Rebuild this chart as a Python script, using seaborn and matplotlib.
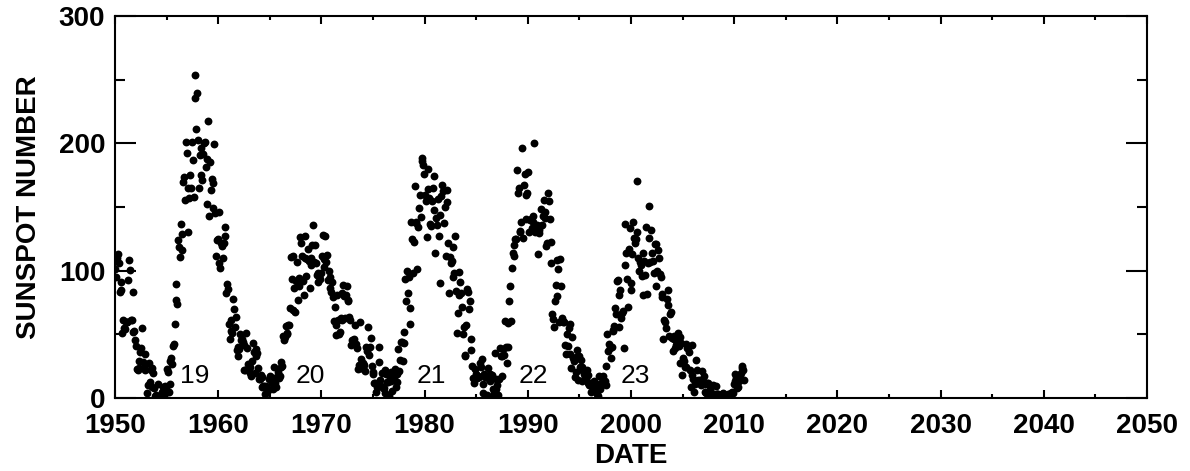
import numpy as np
import pandas as pd
import matplotlib
matplotlib.use("Agg")
import matplotlib.pyplot as plt
from matplotlib.ticker import MultipleLocator
import seaborn as sns

# monthly sunspot numbers, Jan..Dec, one row per year
ssn_1950s = [
    101.6, 94.8, 109.7, 113.4, 106.2, 83.6, 91.0, 85.2, 51.3, 61.4, 54.8, 54.1,
    59.9, 59.9, 59.9, 92.9, 108.5, 100.6, 61.5, 61.0, 83.1, 51.6, 52.4, 45.8,
    40.7, 22.7, 22.0, 29.1, 23.4, 36.4, 39.3, 54.9, 28.2, 23.8, 22.1, 34.3,
    26.5, 3.9, 10.0, 27.8, 12.5, 21.8, 8.6, 23.5, 19.3, 8.2, 1.6, 2.5,
    0.2, 0.5, 10.9, 1.8, 0.8, 0.2, 4.8, 8.4, 1.5, 7.0, 9.2, 7.6,
    23.1, 20.8, 4.9, 11.3, 28.9, 31.7, 26.7, 40.7, 42.7, 58.5, 89.2, 76.9,
    73.6, 124.0, 118.4, 110.7, 136.6, 116.6, 129.1, 169.6, 173.2, 155.3, 201.3, 192.1,
    165.0, 130.2, 157.4, 175.2, 164.6, 200.7, 187.2, 158.0, 235.8, 253.8, 210.9, 239.4,
    202.5, 164.9, 190.7, 196.0, 175.3, 171.5, 191.4, 200.2, 201.2, 181.5, 152.3, 187.6,
    217.4, 143.1, 185.7, 163.3, 172.0, 168.7, 149.6, 199.6, 145.2, 111.4, 124.0, 125.0,
]
ssn_1960s = [
    146.3, 106.0, 102.2, 122.0, 119.6, 110.2, 121.7, 134.1, 127.2, 82.8, 89.6, 85.6,
    57.9, 46.1, 53.0, 61.4, 51.0, 77.4, 70.2, 55.8, 63.6, 37.7, 32.6, 40.0,
    38.7, 50.3, 45.6, 46.4, 43.7, 42.0, 21.8, 21.8, 51.3, 39.5, 26.9, 23.2,
    19.8, 24.4, 17.1, 29.3, 43.0, 35.9, 19.6, 33.2, 38.8, 35.3, 23.4, 14.9,
    15.3, 17.7, 16.5, 8.6, 9.5, 9.1, 3.1, 9.3, 4.7, 6.1, 7.4, 15.1,
    17.5, 14.2, 11.7, 6.8, 24.1, 15.9, 11.9, 8.9, 16.8, 20.1, 15.8, 17.0,
    28.2, 24.4, 25.3, 48.7, 45.3, 47.7, 56.7, 51.2, 50.2, 57.2, 57.2, 70.4,
    110.9, 93.6, 111.8, 69.5, 86.5, 67.3, 91.5, 107.2, 76.8, 88.2, 94.3, 126.4,
    121.8, 111.9, 92.2, 81.2, 127.2, 110.3, 96.1, 109.3, 117.2, 107.7, 86.0, 109.8,
    104.4, 120.5, 135.8, 106.8, 120.0, 106.0, 96.8, 98.0, 91.3, 95.7, 93.5, 97.9,
]
ssn_1970s = [
    111.5, 127.8, 102.9, 109.5, 127.5, 106.8, 112.5, 93.0, 99.5, 86.6, 95.2, 83.5,
    91.3, 79.0, 60.7, 71.8, 57.5, 49.8, 81.0, 61.4, 50.2, 51.7, 63.2, 82.2,
    61.5, 88.4, 80.1, 63.2, 80.5, 88.0, 76.5, 76.8, 64.0, 61.3, 41.6, 45.3,
    43.4, 42.9, 46.0, 57.7, 42.4, 39.5, 23.1, 25.6, 59.3, 30.7, 23.9, 23.3,
    27.6, 26.0, 21.3, 40.3, 39.5, 36.6, 55.8, 33.6, 40.2, 47.1, 25.0, 20.5,
    18.9, 11.5, 11.5, 5.1, 9.0, 11.4, 28.2, 39.7, 13.9, 9.1, 19.4, 7.8,
    8.1, 4.3, 21.9, 18.8, 12.4, 12.2, 1.9, 16.4, 13.5, 20.6, 5.2, 15.3,
    16.4, 23.1, 8.7, 12.9, 18.6, 38.5, 21.4, 30.1, 44.0, 43.8, 29.1, 43.2,
    51.9, 93.6, 76.5, 99.7, 82.7, 95.1, 70.4, 58.1, 138.2, 125.1, 97.9, 122.7,
    166.6, 137.5, 138.0, 101.5, 134.4, 149.5, 159.4, 142.2, 188.4, 186.2, 183.3, 176.3,
]
ssn_1980s = [
    159.6, 155.0, 126.2, 164.1, 179.9, 157.3, 136.3, 135.4, 155.0, 164.7, 147.9, 174.4,
    114.0, 141.3, 135.5, 156.4, 127.5, 90.0, 143.8, 158.7, 167.3, 162.4, 137.5, 150.1,
    111.2, 163.6, 153.8, 122.0, 82.2, 110.4, 106.1, 107.6, 118.8, 94.7, 98.1, 127.0,
    84.3, 51.0, 66.5, 80.7, 99.2, 91.1, 82.2, 71.8, 50.3, 55.8, 33.3, 33.4,
    57.0, 85.4, 83.5, 69.7, 76.4, 46.1, 37.4, 25.5, 15.7, 12.0, 22.8, 18.7,
    16.5, 15.9, 17.2, 16.2, 27.5, 24.2, 30.7, 11.1, 3.9, 18.6, 16.2, 17.3,
    2.5, 23.2, 15.1, 18.5, 13.7, 1.1, 18.1, 7.4, 3.8, 35.4, 15.2, 6.8,
    10.4, 2.4, 14.7, 39.6, 33.0, 17.4, 33.0, 38.7, 33.9, 60.6, 39.9, 27.1,
    59.0, 40.0, 76.2, 88.0, 60.1, 101.8, 113.8, 111.6, 120.1, 125.1, 125.1, 179.2,
    161.3, 165.0, 131.4, 130.5, 138.5, 196.2, 126.0, 167.2, 176.0, 159.1, 140.3, 160.8,
]
ssn_1990s = [
    177.7, 130.0, 140.1, 140.9, 133.7, 137.9, 143.0, 200.3, 130.0, 133.3, 136.2, 113.3,
    132.1, 129.6, 135.3, 148.4, 135.8, 143.1, 155.8, 145.7, 141.3, 119.2, 121.7, 161.3,
    154.7, 140.6, 122.2, 106.3, 65.7, 62.0, 56.0, 76.4, 89.0, 80.4, 108.0, 101.5,
    59.4, 109.2, 88.0, 62.9, 60.3, 59.3, 59.4, 41.9, 34.5, 50.2, 41.1, 54.8,
    57.9, 34.9, 23.2, 47.9, 31.3, 29.3, 16.2, 20.1, 32.1, 37.5, 14.5, 32.7,
    24.1, 30.2, 24.7, 13.6, 21.5, 19.2, 16.2, 15.1, 21.6, 11.5, 18.2, 10.1,
    11.6, 5.1, 9.7, 8.7, 7.2, 13.6, 11.7, 7.5, 3.3, 1.9, 17.0, 9.4,
    7.4, 11.8, 11.9, 17.4, 10.9, 13.1, 10.5, 25.5, 50.6, 37.3, 42.3, 39.5,
    31.6, 40.4, 53.0, 53.4, 56.5, 70.6, 66.2, 92.2, 92.3, 55.6, 81.2, 84.6,
    63.1, 66.5, 68.5, 39.6, 104.8, 137.0, 113.5, 93.3, 71.6, 116.7, 133.2, 84.6,
]
ssn_2000s = [
    90.1, 112.9, 138.5, 125.5, 121.6, 124.9, 170.1, 130.5, 109.7, 99.4, 106.8, 104.4,
    95.6, 80.6, 113.5, 107.7, 96.6, 134.0, 81.8, 106.4, 150.7, 125.5, 106.5, 132.2,
    114.1, 107.4, 98.4, 120.7, 120.8, 88.3, 99.6, 116.4, 109.6, 97.5, 95.0, 81.6,
    79.5, 46.2, 61.5, 60.0, 55.2, 77.4, 85.0, 72.7, 48.8, 65.6, 67.2, 47.0,
    37.2, 46.0, 48.9, 39.3, 41.5, 43.2, 51.0, 40.9, 27.7, 48.0, 43.5, 17.9,
    31.3, 29.2, 24.5, 24.2, 42.7, 39.3, 40.1, 36.4, 21.9, 8.7, 18.0, 41.9,
    15.3, 4.9, 10.6, 30.2, 22.3, 13.9, 12.2, 12.9, 14.4, 10.5, 21.4, 13.6,
    16.9, 10.6, 4.8, 3.7, 11.7, 12.0, 10.0, 6.2, 2.4, 0.9, 1.7, 10.1,
    3.3, 2.1, 9.3, 2.9, 2.9, 3.1, 0.5, 0.5, 1.1, 2.9, 4.1, 0.8,
    1.5, 1.4, 0.7, 1.2, 2.9, 2.6, 3.5, 0.0, 4.3, 4.8, 4.1, 10.8,
]
ssn_2010 = [13.2, 18.8, 15.4, 8.0, 8.7, 13.6, 16.1, 19.6, 25.2, 23.5, 21.6, 14.5]

first_year = 1950
cycle_labels = ['19', '20', '21', '22', '23']
cycle_label_x = [1957.7, 1968.9, 1980.7, 1990.5, 2000.4]

ssn = ssn_1950s + ssn_1960s + ssn_1970s + ssn_1980s + ssn_1990s + ssn_2000s + ssn_2010
months = np.arange(len(ssn))
df = pd.DataFrame({'date': first_year + (months + 0.5) / 12.0, 'ssn': ssn})

sns.set_style("ticks")
plt.rcParams['font.family'] = ['Liberation Sans', 'DejaVu Sans']
plt.rcParams['text.color'] = 'black'
plt.rcParams['axes.labelcolor'] = 'black'
plt.rcParams['xtick.color'] = 'black'
plt.rcParams['ytick.color'] = 'black'

fig = plt.figure(figsize=(11.9, 4.71), dpi=100)
ax = fig.add_axes([0.0966, 0.155, 0.8673, 0.811])

sns.scatterplot(data=df, x='date', y='ssn', color='black', s=32,
                linewidth=0, ax=ax, legend=False)

for lab, xx in zip(cycle_labels, cycle_label_x):
    ax.text(xx, 17, lab, ha='center', va='center', fontsize=19, color='black')

ax.set_xlim(1950, 2050)
ax.set_ylim(0, 300)
ax.xaxis.set_major_locator(MultipleLocator(10))
ax.xaxis.set_minor_locator(MultipleLocator(5))
ax.yaxis.set_major_locator(MultipleLocator(100))
ax.yaxis.set_minor_locator(MultipleLocator(50))

ax.tick_params(axis='both', which='both', direction='in', top=True, right=True,
               width=1.5, colors='black', labelcolor='black')
ax.tick_params(axis='x', which='major', length=6, pad=11)
ax.tick_params(axis='x', which='minor', length=3)
ax.tick_params(axis='y', which='major', length=15, pad=7)
ax.tick_params(axis='y', which='minor', length=7)

for lab in ax.get_xticklabels() + ax.get_yticklabels():
    lab.set_fontsize(20)
    lab.set_fontweight('bold')
    lab.set_color('black')

for sp in ax.spines.values():
    sp.set_linewidth(1.5)
    sp.set_color('black')

ax.set_xlabel('DATE', fontsize=20, fontweight='bold', labelpad=3, color='black')
ax.set_ylabel('SUNSPOT NUMBER', fontsize=20, fontweight='bold', labelpad=12,
              color='black')

fig.savefig('out.png', dpi=100)
